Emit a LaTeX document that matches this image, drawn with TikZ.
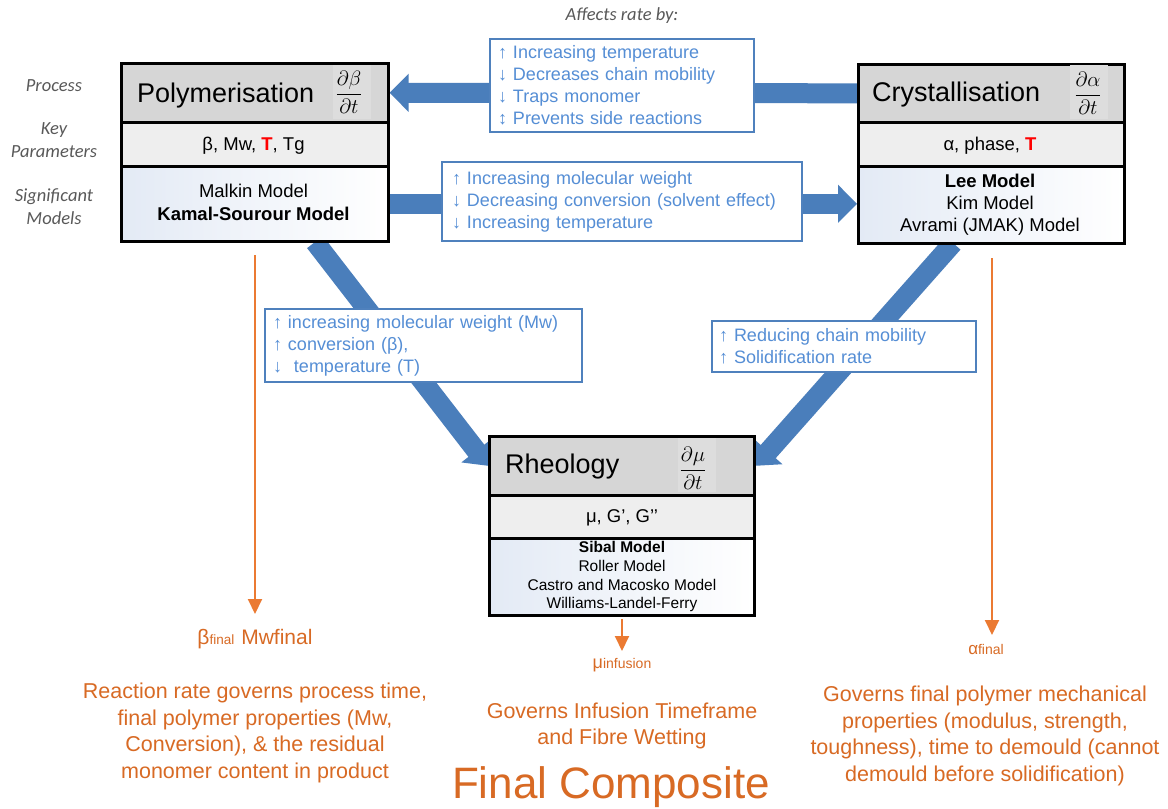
\documentclass[tikz,border=0pt]{standalone}
\usepackage{fontspec}
\setmainfont{Liberation Sans}
\newfontfamily\carl{Carlito}
\usetikzlibrary{arrows.meta,calc}
\pgfdeclarelayer{background}
\pgfsetlayers{background,main}
\definecolor{barrow}{HTML}{4A7EBB}
\definecolor{btext}{HTML}{558ED5}
\definecolor{bborder}{HTML}{4F81BD}
\definecolor{oarrow}{HTML}{EB7A32}
\definecolor{otext}{HTML}{D86A24}
\definecolor{lblgrey}{HTML}{595959}
\definecolor{titlegrey}{HTML}{D6D6D6}
\definecolor{cellgrey}{HTML}{DDDDDD}
\definecolor{paramgrey}{HTML}{EEEEEE}
\definecolor{modelblue}{HTML}{E3EAF5}
\definecolor{tred}{HTML}{FF0000}
\tikzset{
  bluearrow/.style={draw=barrow, line width=20pt, -{Triangle[width=37pt,length=19pt]}},
  orangearrow/.style={draw=oarrow, line width=2pt, -{Triangle[width=14pt,length=15pt]}},
  rowbox/.style={draw=black, line width=2.6pt, inner sep=0pt, anchor=north west},
  titlerow/.style={rowbox, fill=titlegrey},
  paramrow/.style={rowbox, fill=paramgrey},
  modelrow/.style={rowbox, left color=modelblue, right color=white},
  mathcell/.style={fill=cellgrey, inner sep=0pt, minimum width=38pt, minimum height=54pt},
  titletxt/.style={anchor=base west, inner sep=0pt, font=\fontsize{27}{32}\selectfont},
  fractxt/.style={inner sep=0pt, font=\fontsize{19.5}{23}\selectfont},
  ptxt/.style={anchor=base, inner sep=0pt, font=\fontsize{18.5}{22}\selectfont},
  mtxt/.style={anchor=base, inner sep=0pt, font=\fontsize{18.5}{22}\selectfont},
  rtxt/.style={anchor=base, inner sep=0pt, font=\fontsize{15.5}{18.5}\selectfont},
  bbox/.style={draw=bborder, line width=1.8pt, fill=white, align=left, text=btext,
    font=\fontsize{18}{22}\selectfont, inner ysep=2pt},
  sidelbl/.style={text=lblgrey, inner sep=0pt, font=\carl\itshape\fontsize{18.5}{22}\selectfont},
  opara/.style={text=otext, align=center, inner sep=0pt, font=\fontsize{21.5}{26.5}\selectfont},
  osym/.style={text=otext, anchor=base, inner sep=0pt},
}
\begin{document}
\begin{tikzpicture}[x=1pt,y=-1pt]
\useasboundingbox (0,0) rectangle (1168,809);
\begin{pgfonlayer}{background}
\fill[white] (0,0) rectangle (1168,809);
\end{pgfonlayer}

% ---------- main boxes ----------
% Polymerisation
\node[titlerow, minimum width=267pt, minimum height=59pt] (polyT) at (120,62) {};
\node[paramrow, minimum width=267pt, minimum height=44pt] (polyP) at (120,121) {};
\node[modelrow, minimum width=267pt, minimum height=75pt] (polyM) at (120,165) {};
% Crystallisation
\node[titlerow, minimum width=266pt, minimum height=58pt] (cryT) at (857,63) {};
\node[paramrow, minimum width=266pt, minimum height=44pt] (cryP) at (857,121) {};
\node[modelrow, minimum width=266pt, minimum height=77pt] (cryM) at (857,165) {};
% Rheology
\node[titlerow, minimum width=265pt, minimum height=59pt] (rheoT) at (488,435) {};
\node[paramrow, minimum width=265pt, minimum height=43pt] (rheoP) at (488,494) {};
\node[modelrow, minimum width=265pt, minimum height=77pt] (rheoM) at (488,537) {};

% math cells
\node[mathcell] (polyC) at (351.5,91.5) {};
\node[mathcell] (cryC) at (1089,92) {};
\node[mathcell] (rheoC) at (697,464.5) {};

% ---------- blue arrows (behind everything) ----------
\coordinate (dlS) at (315,242);
\coordinate (drS) at (953,243);
\begin{pgfonlayer}{background}
\draw[bluearrow] (cryT.west) -- (polyT.east);
\draw[bluearrow] (polyM.east) -- (polyM.east -| cryM.west);
\draw[bluearrow] (dlS) -- (rheoT.west);
\draw[bluearrow] (drS) -- (rheoT.east);
\end{pgfonlayer}

% ---------- box texts ----------
\node[titletxt] (polyTt) at (137,102) {Polymerisation};
\node[fractxt] (polyF) at (349,92) {$\displaystyle\frac{\partial\beta}{\partial t}$};
\node[ptxt] (polyPt) at (253.5,150) {β, Mw, {\bfseries\color{tred}T}, Tg};
\node[mtxt] (polyM1) at (253.5,197) {Malkin Model};
\node[mtxt] (polyM2) at (253.5,220) {\bfseries Kamal-Sourour Model};

\node[titletxt] (cryTt) at (872,101) {Crystallisation};
\node[fractxt] (cryF) at (1088,93) {$\displaystyle\frac{\partial\alpha}{\partial t}$};
\node[ptxt] (cryPt) at (990,150) {α, phase, {\bfseries\color{tred}T}};
\node[mtxt] (cryM1) at (990,187) {\bfseries Lee Model};
\node[mtxt] (cryM2) at (990,209) {Kim Model};
\node[mtxt] (cryM3) at (990,231) {Avrami (JMAK) Model};

\node[titletxt] (rheoTt) at (505,473) {Rheology};
\node[fractxt] (rheoF) at (693,468) {$\displaystyle\frac{\partial\mu}{\partial t}$};
\node[ptxt] (rheoPt) at (622,522) {μ, G’, G’’};
\node[rtxt] (rheoM1) at (622,552) {\bfseries Sibal Model};
\node[rtxt] (rheoM2) at (622,571) {Roller Model};
\node[rtxt] (rheoM3) at (622,590) {Castro and Macosko Model};
\node[rtxt] (rheoM4) at (622,608) {Williams-Landel-Ferry};

% ---------- blue text boxes ----------
\node[bbox, minimum width=264pt, minimum height=93pt, text width=248pt, inner xsep=8pt] (affect) at (622,85.5)
  {↑ Increasing temperature\\↓ Decreases chain mobility\\↓ Traps monomer\\↕ Prevents side reactions};
\node[bbox, minimum width=360pt, minimum height=79pt, text width=340pt, inner xsep=10pt] (mid) at (622,201.5)
  {↑ Increasing molecular weight\\↓ Decreasing conversion (solvent effect)\\↓ Increasing temperature};
\node[bbox, minimum width=317pt, minimum height=73pt, text width=301pt, inner xsep=8pt] (lowL) at (423.5,345.5)
  {↑ increasing molecular weight (Mw)\\↑ conversion (β),\\↓\ \ temperature (T)};
\node[bbox, minimum width=264pt, minimum height=51pt, text width=250pt, inner xsep=7pt] (lowR) at (844,346.5)
  {↑ Reducing chain mobility\\↑ Solidification rate};

% ---------- side labels ----------
\node[text=lblgrey, inner sep=0pt, font=\carl\itshape\fontsize{18.5}{22}\selectfont] (affects) at (622,16) {Affects rate by:};
\node[sidelbl] (lProc) at (54,86) {Process};
\node[sidelbl] (lKey) at (54,130) {Key};
\node[sidelbl] (lPar) at (54,152) {Parameters};
\node[sidelbl] (lSig) at (54,197) {Significant};
\node[sidelbl] (lMod) at (54,218) {Models};

% ---------- orange arrows and outputs ----------
\coordinate (oL1) at (255,255);
\coordinate (oL2) at (255,614);
\coordinate (oM1) at (622,619);
\coordinate (oM2) at (622,651);
\coordinate (oR1) at (992,258);
\coordinate (oR2) at (992,635);
\draw[orangearrow] (oL1) -- (oL2);
\draw[orangearrow] (oM1) -- (oM2);
\draw[orangearrow] (oR1) -- (oR2);

\node[osym, font=\fontsize{21}{25}\selectfont] (bfin) at (255,644)
  {β{\fontsize{13.5}{16}\selectfont final}\hspace{7pt}Mwfinal};
\node[osym, font=\fontsize{18}{22}\selectfont] (mufin) at (622,668)
  {μ{\fontsize{14}{16}\selectfont infusion}};
\node[osym, font=\fontsize{17}{20}\selectfont] (afin) at (986,654)
  {α{\fontsize{14}{16}\selectfont final}};

\node[opara] (paraL) at (255,733) {Reaction rate governs process time,\\final polymer properties (Mw,\\Conversion), \& the residual\\monomer content in product};
\node[opara] (paraM) at (622,726) {Governs Infusion Timeframe\\and Fibre Wetting};
\node[opara] (paraR) at (985,736) {Governs final polymer mechanical\\properties (modulus, strength,\\toughness), time to demould (cannot\\demould before solidification)};
\node[osym, font=\fontsize{44}{50}\selectfont] (final) at (611,798) {Final Composite};
\end{tikzpicture}
\end{document}
